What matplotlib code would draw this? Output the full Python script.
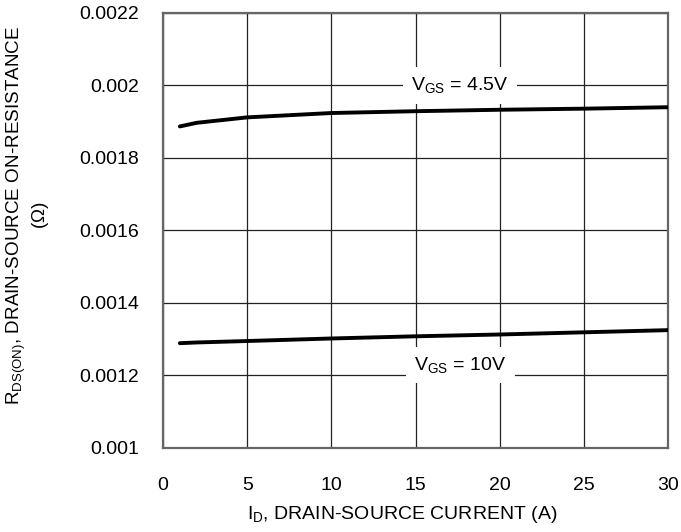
import matplotlib
matplotlib.use('Agg')
import matplotlib.pyplot as plt

plt.rcParams['font.family'] = ['Liberation Sans', 'DejaVu Sans']
plt.rcParams['mathtext.fontset'] = 'custom'
plt.rcParams['mathtext.rm'] = 'Liberation Sans'
plt.rcParams['mathtext.it'] = 'Liberation Sans'

# on-resistance vs drain current, two gate voltages
id_a = [1, 2, 5, 10, 15, 20, 25, 30]
rds_4v5 = [0.001887, 0.001897, 0.001912, 0.001924, 0.001929, 0.001933, 0.001936, 0.001940]
rds_10v = [0.001289, 0.001291, 0.001295, 0.001302, 0.001308, 0.001313, 0.001319, 0.001325]

x_ticks = [0, 5, 10, 15, 20, 25, 30]
y_ticks = [0.001, 0.0012, 0.0014, 0.0016, 0.0018, 0.002, 0.0022]
y_labels = ['0.001', '0.0012', '0.0014', '0.0016', '0.0018', '0.002', '0.0022']

fig = plt.figure(figsize=(6.81, 5.32), dpi=100)
ax = fig.add_axes([0.2394, 0.158, 0.7416, 0.8176])

ax.plot(id_a, rds_4v5, color='black', lw=2.8, solid_capstyle='round', zorder=3)
ax.plot(id_a, rds_10v, color='black', lw=2.8, solid_capstyle='round', zorder=3)

ax.set_xlim(0, 30)
ax.set_ylim(0.001, 0.0022)
ax.set_xticks(x_ticks)
ax.set_yticks(y_ticks)
ax.set_yticklabels(y_labels)
ax.tick_params(length=0, labelsize=14)
ax.tick_params(axis='x', pad=21)
ax.tick_params(axis='y', pad=17)
ax.grid(True, color='#222222', lw=0.9)
ax.set_axisbelow(True)
for s in ax.spines.values():
    s.set_color('#666666')
    s.set_linewidth(1.6)

box = dict(facecolor='white', edgecolor='none', pad=6)
ax.text(17.65, 0.002, r'V$_{\mathrm{GS}}$ = 4.5V', ha='center', va='center',
        fontsize=14, bbox=box, zorder=2)
ax.text(17.65, 0.001229, r'V$_{\mathrm{GS}}$ = 10V', ha='center', va='center',
        fontsize=14, bbox=box, zorder=2)

ax.set_xlabel(r'I$_{\mathrm{D}}$, DRAIN-SOURCE CURRENT (A)', fontsize=14)
ax.xaxis.set_label_coords(0.473, -0.128)
ax.set_ylabel(r'R$_{\mathrm{DS(ON)}}$, DRAIN-SOURCE ON-RESISTANCE' + '\n' + r'($\Omega$)',
              fontsize=13.6, linespacing=1.15)
ax.yaxis.set_label_coords(-0.222, 0.535)

fig.savefig('out.png', dpi=100)
